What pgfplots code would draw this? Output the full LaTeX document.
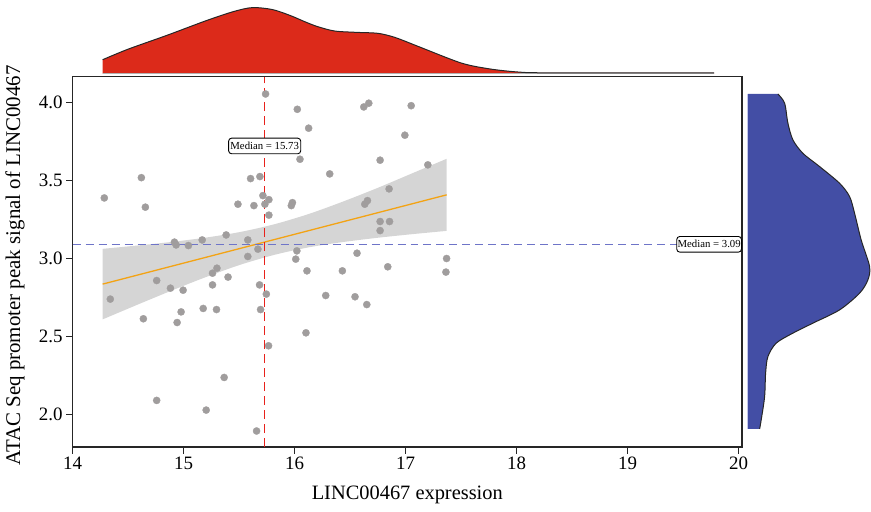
\documentclass[border=0pt]{standalone}
\usepackage{pgfplots}
\pgfplotsset{compat=1.18}
\usepgfplotslibrary{fillbetween}
\usepackage{fontspec}
\setmainfont{Liberation Serif}
\definecolor{ptgray}{RGB}{160,157,157}
\definecolor{bandgray}{RGB}{213,213,213}
\definecolor{fitorange}{RGB}{243,163,20}
\definecolor{medred}{RGB}{232,33,27}
\definecolor{medblue}{RGB}{110,116,200}
\definecolor{topred}{RGB}{220,42,26}
\definecolor{rightblue}{RGB}{67,78,165}
\definecolor{baseblue}{RGB}{196,200,236}

\pgfplotstableread{
x y
15.738 4.053
16.024 3.955
16.623 3.970
16.668 3.994
17.050 3.978
16.126 3.834
16.993 3.789
16.048 3.635
16.770 3.629
17.200 3.599
16.316 3.541
14.619 3.517
15.603 3.511
15.687 3.524
16.851 3.445
15.714 3.402
14.285 3.387
15.768 3.376
16.656 3.370
15.980 3.357
15.732 3.347
15.489 3.347
16.632 3.347
15.633 3.338
15.970 3.338
14.655 3.328
15.768 3.277
16.770 3.236
16.855 3.236
16.770 3.178
15.383 3.150
15.167 3.118
15.578 3.118
14.917 3.104
14.932 3.086
15.043 3.082
15.669 3.059
16.020 3.048
16.562 3.033
15.578 3.012
16.010 2.995
17.369 2.999
15.300 2.937
15.260 2.905
16.111 2.920
16.430 2.920
16.839 2.946
17.363 2.912
15.400 2.880
14.757 2.858
15.260 2.830
15.684 2.830
14.881 2.809
14.995 2.796
15.745 2.771
16.280 2.762
16.544 2.754
14.339 2.739
16.650 2.704
15.693 2.672
15.176 2.679
15.296 2.672
14.977 2.657
14.637 2.613
14.941 2.589
16.102 2.523
15.765 2.440
15.365 2.237
14.757 2.090
15.203 2.028
15.657 1.894
}\scatterdata

\pgfplotstableread{
x up lo
14.27 3.061 2.609
14.58 3.082 2.702
14.89 3.105 2.793
15.20 3.133 2.880
15.51 3.169 2.959
15.82 3.219 3.023
16.13 3.285 3.071
16.44 3.365 3.105
16.75 3.452 3.132
17.06 3.545 3.155
17.37 3.638 3.176
}\banddata

\pgfplotstableread{
x d
14.27 0.21
14.50 0.37
14.85 0.58
15.20 0.80
15.45 0.94
15.62 1.00
15.80 0.97
15.96 0.88
16.10 0.78
16.21 0.71
16.36 0.645
16.55 0.625
16.75 0.61
16.90 0.55
17.07 0.44
17.25 0.32
17.37 0.24
17.50 0.16
17.62 0.11
17.80 0.06
18.00 0.025
18.20 0.012
19.00 0.010
19.78 0.010
}\topdens

\pgfplotstableread{
w y
30.0 4.053
36.7 3.994
40.0 3.866
45.0 3.759
55.0 3.673
71.7 3.588
91.7 3.481
101.7 3.396
106.7 3.289
113.3 3.118
121.7 2.948
120.0 2.862
111.7 2.777
91.7 2.670
65.0 2.585
45.0 2.521
28.3 2.457
20.0 2.371
17.7 2.265
16.7 2.115
13.3 1.966
11.7 1.907
}\rightdens

\begin{document}
\begin{tikzpicture}
\begin{axis}[name=main, at={(0,0)}, anchor=south west, scale only axis,
  width=669.6bp, height=370.6bp,
  xmin=14, xmax=20.03, ymin=1.791, ymax=4.164,
  xtick={14,15,16,17,18,19,20}, ytick={2,2.5,3,3.5,4},
  yticklabel style={/pgf/number format/.cd, fixed, fixed zerofill, precision=1},
  tick align=outside, tick pos=left, major tick length=6.5bp,
  axis line style={line width=1.2bp, black!85},
  tick style={line width=1.2bp, black!85},
  ticklabel style={font=\fontsize{19}{22}\selectfont},
  /pgf/number format/assume math mode=true,
  xlabel={LINC00467 expression},
  ylabel={ATAC Seq promoter peak signal of LINC00467},
  label style={font=\fontsize{20.5}{24}\selectfont},
  xlabel style={at={(axis description cs:0.5,-0.128)}, anchor=center},
  ylabel style={at={(axis description cs:-0.086,0.49)}, anchor=center, font=\fontsize{21}{24}\selectfont},
  clip=false]
\addplot[name path=up, draw=none, smooth] table[x=x, y=up] {\banddata};
\addplot[name path=lo, draw=none, smooth] table[x=x, y=lo] {\banddata};
\addplot[bandgray] fill between[of=up and lo];
\addplot[fitorange, line width=1.3bp] coordinates {(14.27,2.835) (17.37,3.407)};
\addplot[ptgray, only marks, mark=*, mark size=3.6bp, mark options={fill=ptgray, draw=ptgray, line width=0.3bp}] table[x=x, y=y] {\scatterdata};
\addplot[medblue, line width=1.3bp, dash pattern=on 8bp off 5bp] coordinates {(14,3.09) (20.03,3.09)};
\addplot[medred, line width=1.3bp, dash pattern=on 9bp off 5bp] coordinates {(15.73,1.791) (15.73,4.164)};
\node[draw=black, fill=white, rounded corners=3bp, line width=0.9bp, inner xsep=1.8bp, inner ysep=4bp,
  font=\fontsize{10.8}{12}\selectfont] at (axis cs:15.73,3.72) {Median = 15.73};
\node[draw=black, fill=white, rounded corners=3bp, line width=0.9bp, inner xsep=0.8bp, inner ysep=4bp,
  anchor=east, font=\fontsize{10.8}{12}\selectfont] at (axis cs:20.03,3.09) {Median = 3.09};
\end{axis}

\begin{axis}[at={(0,373.7bp)}, anchor=south west, scale only axis,
  width=669.6bp, height=66bp, xmin=14, xmax=20.03, ymin=0, ymax=1,
  hide axis, clip=false]
\addplot[fill=topred, draw=none, smooth] table[x=x, y=d] {\topdens} \closedcycle;
\addplot[black!30, line width=1bp] coordinates {(14.27,0) (19.78,0)};
\addplot[black!85, line width=1bp, smooth] table[x=x, y=d] {\topdens};
\end{axis}

\begin{axis}[at={(675.6bp,0)}, anchor=south west, scale only axis,
  width=123bp, height=370.6bp, xmin=0, xmax=123, ymin=1.791, ymax=4.164,
  hide axis, clip=false]
\addplot[fill=rightblue, draw=none, smooth] table[x=w, y=y] {\rightdens}
  -- (axis cs:0,1.907) -- (axis cs:0,4.053) -- cycle;
\addplot[black!85, line width=1bp, smooth] table[x=w, y=y] {\rightdens};
\addplot[baseblue, line width=1bp] coordinates {(0,4.053) (0,1.907)};
\end{axis}
\path (-72.7bp,-64.7bp) rectangle (798.3bp,447.3bp);
\end{tikzpicture}
\end{document}
